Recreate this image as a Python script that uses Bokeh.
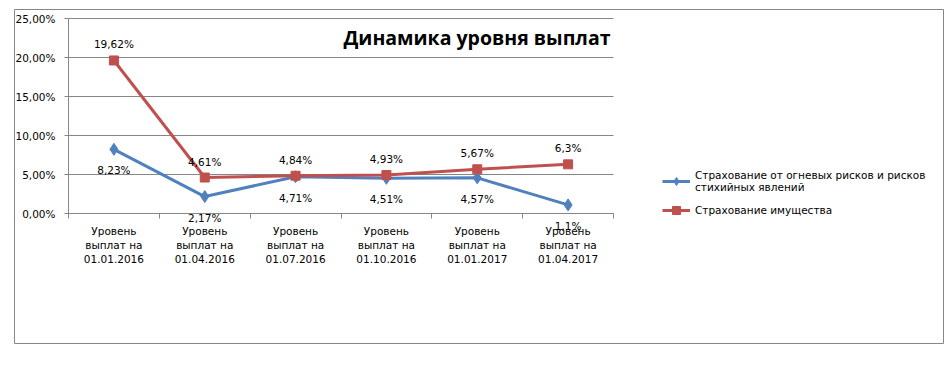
from bokeh.plotting import figure
from bokeh.models import (Range1d, FixedTicker, Legend, LegendItem, Label,
                          ColumnDataSource)
from bokeh.core.properties import value
from bokeh.embed import file_html
from bokeh.resources import INLINE

# ---- data ----
categories = [
    "Уровень\nвыплат на\n01.01.2016",
    "Уровень\nвыплат на\n01.04.2016",
    "Уровень\nвыплат на\n01.07.2016",
    "Уровень\nвыплат на\n01.10.2016",
    "Уровень\nвыплат на\n01.01.2017",
    "Уровень\nвыплат на\n01.04.2017",
]
fire_values = [8.23, 2.17, 4.71, 4.51, 4.57, 1.1]
property_values = [19.62, 4.61, 4.84, 4.93, 5.67, 6.3]
series_names = ["Страхование от огневых рисков и рисков\nстихийных явлений",
                "Страхование имущества"]
y_ticks = [0, 5, 10, 15, 20, 25]
y_tick_labels = ["0,00%", "5,00%", "10,00%", "15,00%", "20,00%", "25,00%"]
title_text = "Динамика уровня выплат"

BLUE = "#4F81BD"
RED = "#C0504D"
GRID = "#868686"
FONT = "DejaVu Sans"

n = len(categories)
xs = [i + 0.5 for i in range(n)]
y_max = y_ticks[-1]


def fmt(v):
    return ("%g" % v).replace(".", ",") + "%"


fire_src = ColumnDataSource(dict(x=xs, y=fire_values, t=[fmt(v) for v in fire_values]))
prop_src = ColumnDataSource(dict(x=xs, y=property_values, t=[fmt(v) for v in property_values]))

# layout geometry (pixels): frame is the whole chart box, plot area inside it
box_l, box_t, box_r, box_b = 14, 9, 943, 343
area_l, area_r, area_t, area_b = 68, 613, 18, 213
px_x = (area_r - area_l) / n
px_y = (area_b - area_t) / y_max

x_range = Range1d(-(area_l - box_l) / px_x, (box_r - area_l) / px_x)
y_range = Range1d(-(box_b - area_b) / px_y, (area_b - box_t) / px_y)

p = figure(width=box_r + 1, height=box_b + 1, x_range=x_range, y_range=y_range,
           output_backend="svg", toolbar_location=None,
           min_border_left=box_l, min_border_right=1, min_border_top=box_t,
           min_border_bottom=1)
p.outline_line_color = GRID
p.outline_line_width = 1
p.background_fill_color = "white"
p.border_fill_color = "white"

# axes
xa = p.xaxis[0]
xa.fixed_location = 0
xa.bounds = (0, n)
xa.ticker = FixedTicker(ticks=xs, minor_ticks=list(range(n + 1)))
xa.major_label_overrides = {x: c for x, c in zip(xs, categories)}
xa.major_tick_line_color = None
xa.major_tick_out = 0
xa.major_tick_in = 0
xa.minor_tick_out = 5
xa.minor_tick_in = 0
xa.minor_tick_line_color = GRID
xa.axis_line_color = GRID
xa.major_label_text_font = FONT
xa.major_label_text_font_size = "10.5px"
xa.major_label_text_color = "black"
xa.major_label_standoff = 6

ya = p.yaxis[0]
ya.fixed_location = 0
ya.bounds = (0, y_max)
ya.ticker = FixedTicker(ticks=y_ticks)
ya.major_label_overrides = {t: l for t, l in zip(y_ticks, y_tick_labels)}
ya.major_tick_out = 4
ya.major_tick_in = 0
ya.major_tick_line_color = GRID
ya.minor_tick_line_color = None
ya.axis_line_color = GRID
ya.major_label_text_font = FONT
ya.major_label_text_font_size = "10.5px"
ya.major_label_text_color = "black"
ya.major_label_standoff = 9

p.xgrid.grid_line_color = None
try:
    p.ygrid.ticker = FixedTicker(ticks=y_ticks)
    p.ygrid.bounds = (0, y_max)
    p.ygrid.cross_bounds = (0, n)
    p.ygrid.grid_line_color = GRID
except Exception:
    p.ygrid.grid_line_color = None
    p.segment(x0=[0] * len(y_ticks), x1=[n] * len(y_ticks), y0=y_ticks, y1=y_ticks,
              line_color=GRID, line_width=1)

# series
l1 = p.line("x", "y", source=fire_src, line_color=BLUE, line_width=3)
s1 = p.scatter("x", "y", source=fire_src, marker="diamond", size=12,
               fill_color=BLUE, line_color=BLUE)
l2 = p.line("x", "y", source=prop_src, line_color=RED, line_width=3)
s2 = p.scatter("x", "y", source=prop_src, marker="square", size=9,
               fill_color=RED, line_color=RED)

p.text("x", "y", text="t", source=fire_src, text_font=value(FONT), text_font_size="10.5px",
       text_align="center", text_baseline="middle", y_offset=21, text_color="black")
p.text("x", "y", text="t", source=prop_src, text_font=value(FONT), text_font_size="10.5px",
       text_align="center", text_baseline="middle", y_offset=-16, text_color="black")

# title
p.add_layout(Label(x=(610 - area_l) / px_x, y=(area_b - 37) / px_y, text=title_text,
                   text_align="right", text_baseline="middle", text_font="Open Sans",
                   text_font_style="bold", text_font_size="19.5px", text_color="black"))

# legend
legend = Legend(items=[LegendItem(label=series_names[0], renderers=[l1, s1]),
                       LegendItem(label=series_names[1], renderers=[l2, s2])],
                location=(662 - box_l, box_b - 220), padding=0, margin=0, spacing=7,
                glyph_width=28, glyph_height=20, label_standoff=5,
                border_line_color=None, background_fill_alpha=0,
                label_text_font=FONT, label_text_font_size="10.5px",
                label_text_line_height=1.6,
                label_text_color="black")
p.add_layout(legend, "center")

open("out.html", "w").write(file_html(p, INLINE))
